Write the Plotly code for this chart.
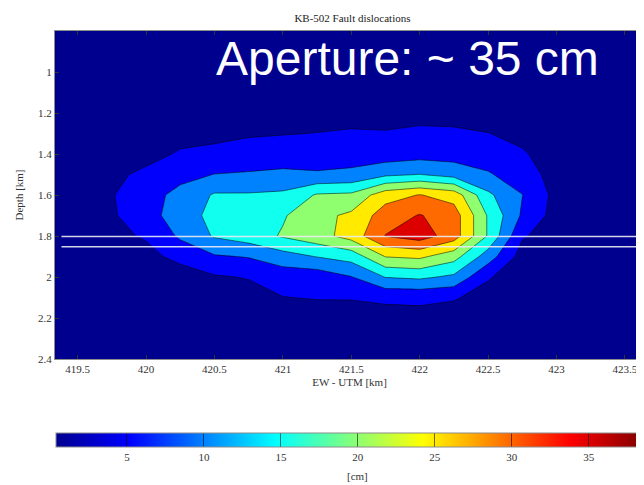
import numpy as np
import plotly.graph_objects as go

# ---------------- data ----------------
utm_km = [419.25, 419.5, 419.75, 420.0, 420.25, 420.5, 420.75, 421.0, 421.25,
          421.5, 421.75, 422.0, 422.25, 422.5, 422.75, 423.0, 423.25, 423.5, 423.75]
depth_km = [0.8, 0.9, 1.0, 1.1, 1.2, 1.3, 1.4, 1.5, 1.6, 1.7, 1.8, 1.9, 2.0,
            2.1, 2.2, 2.3, 2.4]

# fault dislocation [cm] per UTM column, from 0.8 km (top) down to 2.4 km
d_419_25 = [0.3, 0.4, 0.5, 0.6, 0.8, 1.0, 1.3, 1.6, 1.8, 1.7, 1.4, 1.1, 0.8, 0.6, 0.5, 0.4, 0.3]
d_419_50 = [0.4, 0.5, 0.7, 0.9, 1.1, 1.5, 2.0, 2.5, 3.0, 2.8, 2.3, 1.8, 1.2, 0.9, 0.7, 0.5, 0.4]
d_419_75 = [0.5, 0.7, 0.9, 1.2, 1.5, 2.0, 3.0, 4.0, 4.7, 4.4, 3.8, 3.0, 2.0, 1.3, 0.9, 0.6, 0.5]
d_420_00 = [0.6, 0.8, 1.1, 1.5, 2.0, 2.7, 3.5, 6.0, 8.0, 8.0, 5.5, 3.5, 2.2, 1.5, 1.0, 0.7, 0.5]
d_420_25 = [0.6, 0.9, 1.2, 1.8, 2.5, 3.5, 5.5, 8.5, 11.5, 12.5, 10.8, 6.5, 2.5, 1.5, 1.0, 0.7, 0.5]
d_420_50 = [0.7, 1.0, 1.4, 2.0, 2.5, 4.0, 6.0, 10.1, 15.5, 16.5, 15.5, 9.5, 4.5, 2.0, 1.2, 0.8, 0.6]
d_420_75 = [0.7, 1.0, 1.5, 2.2, 3.0, 4.5, 7.0, 10.5, 15.5, 18.0, 17.5, 10.3, 5.3, 3.0, 1.5, 0.9, 0.6]
d_421_00 = [0.8, 1.1, 1.6, 2.3, 3.0, 4.8, 7.5, 11.0, 16.0, 19.5, 20.5, 13.0, 7.0, 4.9, 2.5, 1.2, 0.7]
d_421_25 = [0.8, 1.1, 1.6, 2.4, 3.2, 5.1, 7.8, 10.5, 20.5, 23.5, 23.0, 15.2, 7.0, 5.3, 2.5, 1.2, 0.7]
d_421_50 = [0.8, 1.1, 1.7, 2.5, 3.3, 5.5, 8.0, 11.0, 21.0, 26.0, 27.0, 17.0, 9.8, 5.3, 2.8, 1.3, 0.7]
d_421_75 = [0.8, 1.1, 1.7, 2.5, 3.4, 5.3, 7.3, 14.0, 28.0, 32.5, 35.2, 25.2, 15.2, 6.0, 3.0, 1.4, 0.8]
d_422_00 = [0.8, 1.1, 1.7, 2.5, 3.4, 6.0, 8.0, 15.1, 30.2, 35.3, 37.5, 26.0, 16.0, 6.0, 3.5, 1.5, 0.8]
d_422_25 = [0.8, 1.1, 1.7, 2.5, 3.3, 5.8, 8.0, 13.0, 28.0, 32.5, 32.5, 22.0, 14.0, 5.5, 2.5, 1.3, 0.7]
d_422_50 = [0.7, 1.0, 1.5, 2.2, 3.0, 5.1, 7.5, 10.5, 16.0, 19.5, 19.5, 12.5, 5.5, 3.0, 1.8, 1.0, 0.6]
d_422_75 = [0.6, 0.9, 1.3, 1.8, 2.5, 3.8, 5.5, 7.5, 10.1, 9.3, 5.5, 3.0, 2.0, 1.4, 1.0, 0.7, 0.5]
d_423_00 = [0.5, 0.7, 1.0, 1.3, 1.7, 2.2, 2.8, 3.0, 3.5, 3.0, 2.6, 2.0, 1.5, 1.0, 0.7, 0.5, 0.4]
d_423_25 = [0.4, 0.5, 0.7, 0.9, 1.1, 1.4, 1.7, 2.0, 2.2, 2.0, 1.7, 1.4, 1.0, 0.8, 0.6, 0.4, 0.3]
d_423_50 = [0.3, 0.4, 0.5, 0.6, 0.8, 1.0, 1.2, 1.3, 1.4, 1.3, 1.2, 1.0, 0.8, 0.6, 0.5, 0.4, 0.3]
d_423_75 = [0.3, 0.3, 0.4, 0.5, 0.6, 0.7, 0.8, 0.9, 1.0, 0.9, 0.8, 0.7, 0.6, 0.5, 0.4, 0.3, 0.3]

x_ticks = [419.5, 420, 420.5, 421, 421.5, 422, 422.5, 423, 423.5]
x_tick_labels = ["419.5", "420", "420.5", "421", "421.5", "422", "422.5", "423", "423.5"]
y_ticks = [1, 1.2, 1.4, 1.6, 1.8, 2, 2.2, 2.4]
y_tick_labels = ["1", "1.2", "1.4", "1.6", "1.8", "2", "2.2", "2.4"]
cb_ticks = [5, 10, 15, 20, 25, 30, 35]
cb_tick_labels = ["5", "10", "15", "20", "25", "30", "35"]
well_depths = [1.803, 1.852]
color_min, color_max = 0.36, 38.5

# ---------------- figure ----------------
columns = [d_419_25, d_419_50, d_419_75, d_420_00, d_420_25, d_420_50, d_420_75,
           d_421_00, d_421_25, d_421_50, d_421_75, d_422_00, d_422_25, d_422_50,
           d_422_75, d_423_00, d_423_25, d_423_50, d_423_75]
z = np.array(columns).T  # rows = depth, cols = utm

jet = [[0.0, "#00008F"], [0.125, "#0000FF"], [0.375, "#00FFFF"],
       [0.625, "#FFFF00"], [0.875, "#FF0000"], [1.0, "#800000"]]

band_colors = ["#00008F", "#0000FC", "#0082FF", "#10FFEF",
               "#8FFF70", "#FFEA00", "#FF6A00", "#DD0000"]
band_scale = [[i / (len(band_colors) - 1), c] for i, c in enumerate(band_colors)]

serif = "Liberation Serif, Times New Roman, serif"
tick_font = dict(family=serif, size=11, color="#333333")

fig = go.Figure()

# continuous jet colour bar (hidden underneath the contour fill)
fig.add_trace(go.Heatmap(
    x=utm_km, y=depth_km, z=z, zmin=color_min, zmax=color_max,
    colorscale=jet, hoverinfo="skip",
    colorbar=dict(
        orientation="h", lenmode="pixels", len=587, thickness=14,
        x=0.001, xanchor="left", y=-0.2245, yanchor="top", xpad=0, ypad=0,
        outlinewidth=1, outlinecolor="#8c8c8c",
        tickmode="array", tickvals=cb_ticks, ticktext=cb_tick_labels,
        ticks="inside", ticklen=14, tickcolor="rgba(0,0,0,0.55)", tickwidth=1,
        tickfont=tick_font,
    ),
))

fig.add_trace(go.Contour(
    x=utm_km, y=depth_km, z=z,
    autocontour=False,
    contours=dict(start=5, end=35, size=5, coloring="fill"),
    colorscale=band_scale, showscale=False,
    line=dict(color="rgba(0,0,0,0.75)", width=0.7, smoothing=0),
    hoverinfo="skip",
))

for d in well_depths:
    fig.add_shape(type="line", xref="paper", yref="y", x0=0.011, x1=1,
                  y0=d, y1=d, line=dict(color="rgba(235,235,245,0.9)", width=1.5))

fig.add_annotation(
    text="Aperture: ~ 35 cm", xref="paper", yref="paper",
    x=0.27, xanchor="left", y=0.917, yanchor="middle", showarrow=False,
    font=dict(family="Liberation Sans, Arial, sans-serif", size=48, color="white"),
)
fig.add_annotation(
    text="[cm]", xref="paper", yref="paper", x=0.514, xanchor="center",
    y=-0.356, yanchor="middle", showarrow=False, font=tick_font,
)

fig.update_layout(
    template="none",
    width=636, height=477,
    margin=dict(l=47, r=0, t=23, b=126, autoexpand=False),
    paper_bgcolor="white", plot_bgcolor="#00008F",
    showlegend=False,
    title=dict(text="KB-502 Fault dislocations", xref="paper", x=0.505,
               xanchor="center", yref="container", y=1 - 10 / 477,
               yanchor="middle",
               font=dict(family=serif, size=11, color="#222222")),
    xaxis=dict(range=[419.334, 423.64], tickmode="array", tickvals=x_ticks,
               ticktext=x_tick_labels, ticks="inside", ticklen=4,
               tickcolor="#333", mirror="ticks", showline=True, automargin=False,
               linecolor="#8c8c8c", linewidth=1, showgrid=False, zeroline=False,
               tickfont=tick_font,
               title=dict(text="EW - UTM [km]", font=tick_font, standoff=4)),
    yaxis=dict(range=[2.4, 0.8], tickmode="array", tickvals=y_ticks,
               ticktext=y_tick_labels, ticks="inside", ticklen=4,
               tickcolor="#333", mirror="ticks", showline=True, automargin=False,
               linecolor="#8c8c8c", linewidth=1, showgrid=False, zeroline=False,
               tickfont=tick_font,
               title=dict(text="Depth [km]", font=tick_font, standoff=12)),
)

fig.write_html("out.html")
